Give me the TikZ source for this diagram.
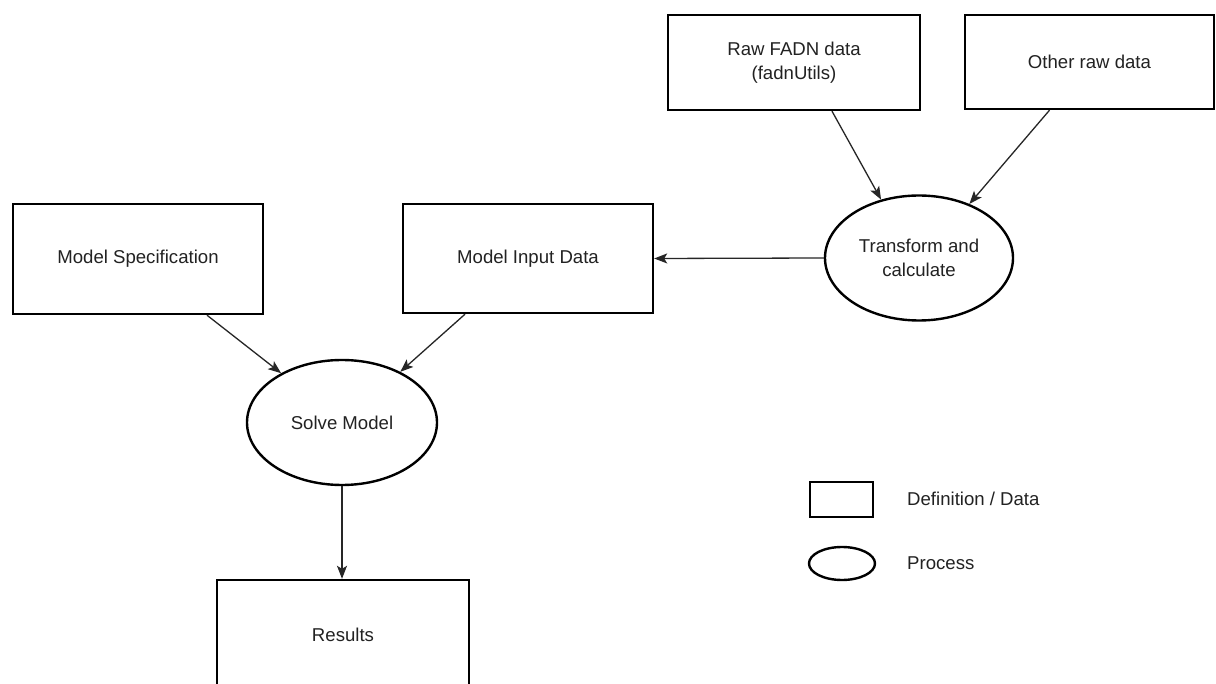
\documentclass[tikz,border=0pt]{standalone}
\usepackage{fontspec}
\setmainfont{Liberation Sans}
\usetikzlibrary{arrows.meta,shapes.geometric}
\definecolor{txt}{HTML}{222222}
\tikzset{
  databox/.style={draw=black, line width=2.4pt, fill=white, rectangle, inner sep=0pt,
    font=\fontsize{18.6}{24}\selectfont, text=txt, align=center},
  procnode/.style={draw=black, line width=2.4pt, fill=white, ellipse, inner sep=0pt,
    font=\fontsize{18.6}{24}\selectfont, text=txt, align=center},
  flow/.style={draw=black!85, line width=1.3pt, -{Stealth[length=13pt,width=10pt,inset=3pt]}},
  legtext/.style={anchor=west, inner sep=0pt, font=\fontsize{18.6}{24}\selectfont, text=txt}
}
\begin{document}
\begin{tikzpicture}[x=1pt,y=-1pt]
\useasboundingbox[fill=white] (0,0) rectangle (1216,684);
% data boxes
\node[databox, minimum width=252pt, minimum height=95pt] (raw) at (794,62.5) {Raw FADN data\\(fadnUtils)};
\node[databox, minimum width=249pt, minimum height=94pt] (other) at (1089.5,62) {Other raw data};
\node[databox, minimum width=250pt, minimum height=110pt] (spec) at (138,259) {Model Specification};
\node[databox, minimum width=250pt, minimum height=109pt] (input) at (528,258.5) {Model Input Data};
\node[databox, minimum width=252pt, minimum height=110pt] (results) at (343,635) {Results};
% processes
\node[procnode, minimum width=188pt, minimum height=125pt] (trans) at (919,258) {Transform and\\calculate};
\node[procnode, minimum width=190pt, minimum height=125pt] (solve) at (342,422.5) {Solve Model};
% connectors
\draw[flow] ([xshift=38pt]raw.south) -- (trans.123);
\draw[flow] ([xshift=-40pt]other.south) -- (trans.47);
\draw[flow] (trans.west) -- (input.east);
\draw[flow] ([xshift=69pt]spec.south) -- (solve.141);
\draw[flow] ([xshift=-63pt]input.south) -- (solve.41.5);
\draw[flow] (solve.south) -- (solve.south |- results.north);
% legend
\node[draw=black, line width=2.4pt, rectangle, minimum width=63pt, minimum height=35pt, inner sep=0pt] (legbox) at (841.5,499.5) {};
\node[draw=black, line width=2.4pt, ellipse, minimum width=66pt, minimum height=33pt, inner sep=0pt] (legell) at (842,563.5) {};
\node[legtext] (legboxtext) at (907,499) {Definition / Data};
\node[legtext] (legelltext) at (907,563) {Process};
\end{tikzpicture}
\end{document}
